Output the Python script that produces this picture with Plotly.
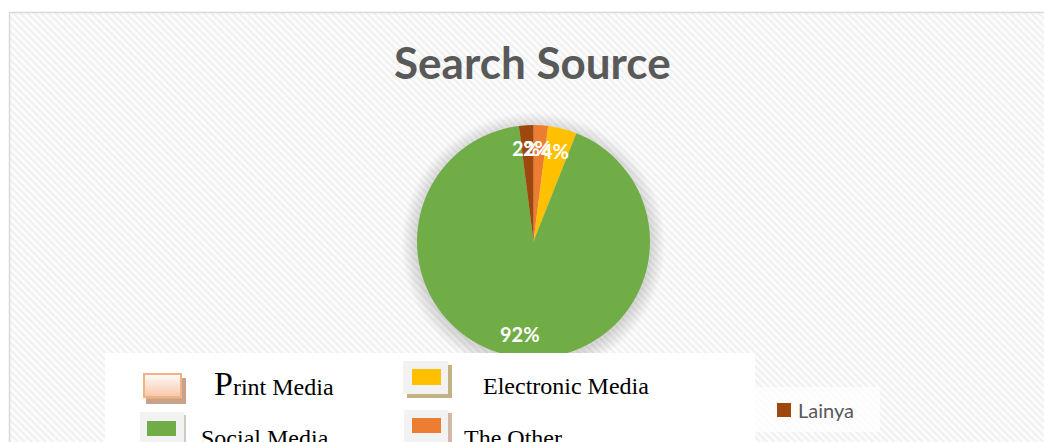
import numpy as np
import plotly.graph_objects as go

W, H = 1044, 442

# data
sources = ["Print Media", "The Other", "Electronic Media", "Social Media", "Lainya"]
shares = [0, 2, 4, 92, 2]
slice_colors = ["#f8cbad", "#ed7d31", "#ffc000", "#70ad47", "#9e480e"]
chart_title = "Search Source"

# pie geometry in pixels
cx, cy, R = 533.5, 241.5, 116.5

fig = go.Figure()

# hatched chart area
fig.add_trace(go.Scatter(
    x=[9.5, W + 5, W + 5, 9.5, 9.5], y=[12.5, 12.5, H + 5, H + 5, 12.5],
    mode="lines", line=dict(width=0), fill="toself",
    fillpattern=dict(shape="\\", size=5, solidity=0.45,
                     fgcolor="#e5e5e5", bgcolor="#fcfcfc"),
    hoverinfo="skip", showlegend=False))

# soft shadow around the pie
t = np.linspace(0, 2 * np.pi, 241)
for k in range(12):
    r = R + 1 + 1.3 * k
    fig.add_trace(go.Scatter(
        x=cx + r * np.cos(t), y=cy + 3 + r * np.sin(t),
        mode="lines", line=dict(width=0), fill="toself",
        fillcolor="rgba(0,0,0,0.012)", hoverinfo="skip", showlegend=False))

fig.add_trace(go.Pie(
    labels=sources, values=shares, sort=False, direction="clockwise", rotation=0,
    marker=dict(colors=slice_colors, line=dict(width=0)),
    textinfo="none", hoverinfo="label+percent", showlegend=False,
    domain=dict(x=[(cx - R) / W, (cx + R) / W],
                y=[1 - (cy + R) / H, 1 - (cy - R) / H])))

annotations = []
shapes = []

# percentage labels along each slice's bisector
total = sum(shares)
acc = 0.0
for name, v in zip(sources, shares):
    if v > 0:
        mid = (acc + v / 2) / total * 2 * np.pi
        annotations.append(dict(
            x=cx - 2 + 0.8 * R * np.sin(mid), y=cy - 0.8 * R * np.cos(mid),
            text=f"{round(100 * v / total)}%", showarrow=False,
            xanchor="center", yanchor="middle",
            font=dict(family="Lato", size=20, color="white", weight="bold")))
    acc += v

annotations.append(dict(
    x=532.5, y=62, text=chart_title, showarrow=False,
    xanchor="center", yanchor="middle",
    font=dict(family="Lato", size=44, color="#595959", weight="bold")))

# chart border
shapes.append(dict(type="rect", x0=9.5, y0=12.5, x1=W + 10, y1=H + 10,
                   line=dict(color="#d9d9d9", width=1.5), fillcolor="rgba(0,0,0,0)",
                   layer="above"))

# legend panels
shapes.append(dict(type="rect", x0=105, y0=353, x1=755, y1=H + 10,
                   line=dict(width=0), fillcolor="white", layer="above"))
shapes.append(dict(type="rect", x0=755, y0=387, x1=880, y1=432,
                   line=dict(width=0), fillcolor="rgba(255,255,255,0.72)", layer="above"))


def box(x0, y0, x1, y1, color):
    shapes.append(dict(type="rect", x0=x0, y0=y0, x1=x1, y1=y1,
                       line=dict(width=0), fillcolor=color, layer="above"))


# Print Media icon: shadow, gradient body, outline
box(146, 378, 186, 404, "#c9a28b")
c0 = np.array([255, 255, 255])
c1 = np.array([248, 196, 164])
n = 25
for i in range(n):
    f = (i + 0.5) / n
    c = (c0 + (c1 - c0) * f).astype(int)
    box(143, 373 + 25 * i / n, 182, 373 + 25 * (i + 1) / n + 0.3,
        f"rgb({c[0]},{c[1]},{c[2]})")
shapes.append(dict(type="rect", x0=144, y0=374, x1=181, y1=397,
                   line=dict(color="#f4b183", width=2), fillcolor="rgba(0,0,0,0)",
                   layer="above"))

# Electronic Media icon
box(407, 365, 452, 398, "#c4b283")
box(403, 361, 448, 394, "#f2f2f2")
box(412, 369, 441, 385, "#ffc000")

# Social Media icon
box(143, 415, 186, H + 10, "#c6cfc0")
box(140, 412, 184, H + 10, "#f2f2f2")
box(147, 421, 176, 436, "#70ad47")

# The Other icon
box(407, 413, 452, H + 10, "#d3b8a6")
box(404, 410, 448, H + 10, "#f2f2f2")
box(412, 418, 441, 433, "#ed7d31")

# Lainya key
box(777, 403, 791, 417, "#9e480e")

serif = dict(family="Liberation Serif", size=24, color="black")
annotations += [
    dict(x=212, y=383, text="<span style='font-size:34px'>P</span>rint Media",
         showarrow=False, xanchor="left", yanchor="middle", font=serif),
    dict(x=481, y=386, text="Electronic Media", showarrow=False,
         xanchor="left", yanchor="middle", font=serif),
    dict(x=199, y=438, text="Social Media", showarrow=False,
         xanchor="left", yanchor="middle", font=serif),
    dict(x=462, y=438, text="The Other", showarrow=False,
         xanchor="left", yanchor="middle", font=serif),
    dict(x=796, y=409.5, text="Lainya", showarrow=False,
         xanchor="left", yanchor="middle",
         font=dict(family="Lato", size=20, color="#595959")),
]

fig.update_layout(
    width=W, height=H, margin=dict(l=0, r=0, t=0, b=0),
    paper_bgcolor="white", plot_bgcolor="white",
    xaxis=dict(range=[0, W], visible=False, fixedrange=True, domain=[0, 1]),
    yaxis=dict(range=[H, 0], visible=False, fixedrange=True, domain=[0, 1]),
    shapes=shapes, annotations=annotations, showlegend=False,
)

fig.write_html("out.html")
